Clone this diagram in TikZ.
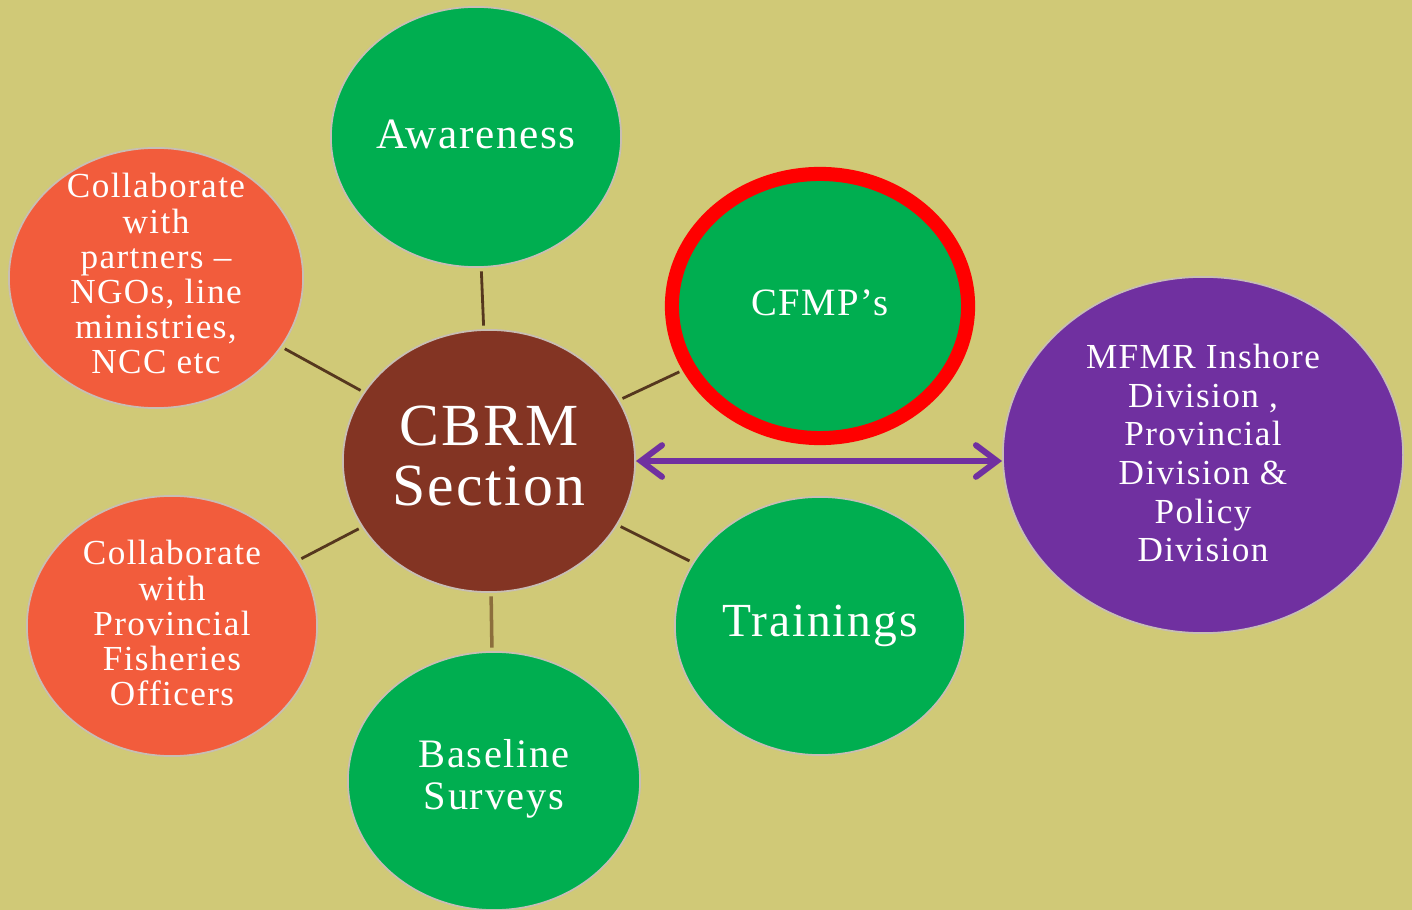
\documentclass[tikz,border=0pt]{standalone}
\usepackage{fontspec}
\setmainfont{Liberation Serif}[LetterSpace=4]
\usetikzlibrary{arrows.meta}
\usetikzlibrary{positioning, calc}
\usetikzlibrary{shapes.geometric}

\definecolor{bgkhaki}{RGB}{208,201,119}
\definecolor{cbgreen}{RGB}{0,174,80}
\definecolor{cborange}{RGB}{242,92,60}
\definecolor{cbbrown}{RGB}{131,52,35}
\definecolor{cbpurple}{RGB}{112,48,160}
\definecolor{cbred}{RGB}{255,0,0}
\definecolor{rimgray}{RGB}{200,190,180}
\definecolor{spokedark}{RGB}{85,55,30}
\definecolor{spokelight}{RGB}{140,110,60}

\newcommand{\bubfont}[2]{\fontsize{#1}{#2}\selectfont}

\begin{document}
\begin{tikzpicture}[x=0.01cm, y=-0.01cm,
    bubble/.style={ellipse, draw=rimgray, line width=0.5pt, inner sep=0pt, minimum width=2.9cm, minimum height=2.6cm},
    txt/.style={text=white, align=center, inner sep=0pt},
    spoke/.style={spokedark, line width=0.8pt, shorten <=1pt, shorten >=1pt},
    link/.style={cbpurple, line width=1.7pt, line cap=round, {Straight Barb[length=6pt, width=9pt, line cap=round]}-{Straight Barb[length=6pt, width=9pt, line cap=round]}}
]
    \fill[bgkhaki] (0,0) rectangle (1412,910);
    \useasboundingbox (0,0) rectangle (1412,910);

    % hub
    \node[bubble, fill=cbbrown, minimum width=2.92cm, minimum height=2.62cm,
          label={[txt, font=\bubfont{17}{17}, yshift=1.5pt]center:CBRM\\Section}] (cbrm) at (489,461) {};

    % activities round the hub
    \node[bubble, fill=cbgreen, label={[txt, font=\bubfont{12.3}{13}, yshift=0.8pt]center:Awareness}] (aw) at (476,137) {};
    \node[bubble, fill=cborange, minimum width=2.94cm,
          label={[txt, font=\bubfont{10}{10}, yshift=1.2pt]center:Collaborate\\with\\partners --\\NGOs, line\\ministries,\\NCC etc}] (part) at (156,278) {};
    \node[bubble, fill=cbgreen, draw=cbred, line width=4pt, minimum width=2.96cm, minimum height=2.64cm,
          label={[txt, font=\bubfont{11}{12}, yshift=0.8pt]center:CFMP’s}] (cfmp) at (820,306) {};
    \node[bubble, fill=cborange,
          label={[txt, font=\bubfont{10}{10}, yshift=0.8pt]center:Collaborate\\with\\Provincial\\Fisheries\\Officers}] (prov) at (172,626) {};
    \node[bubble, fill=cbgreen, minimum height=2.58cm,
          label={[txt, font=\bubfont{13.5}{14}]center:Trainings}] (train) at (820,626) {};
    \node[bubble, fill=cbgreen, minimum width=2.92cm, minimum height=2.58cm,
          label={[txt, font=\bubfont{11.5}{12}, yshift=0.6pt]center:Baseline\\Surveys}] (base) at (494,781) {};

    % partner division
    \node[bubble, fill=cbpurple, minimum width=4cm, minimum height=3.56cm,
          label={[txt, font=\bubfont{10}{11}, yshift=0.5pt]center:MFMR Inshore\\Division ,\\Provincial\\Division \&\\Policy\\Division}] (mfmr) at (1203,455) {};

    \foreach \n in {aw, part, cfmp, prov, train} {
        \draw[spoke] (cbrm) -- (\n);
    }
    \draw[spoke, spokelight, line width=1pt] (cbrm) -- (base);

    \draw[link] (cbrm.east) -- (cbrm.east -| mfmr.west);
\end{tikzpicture}
\end{document}
